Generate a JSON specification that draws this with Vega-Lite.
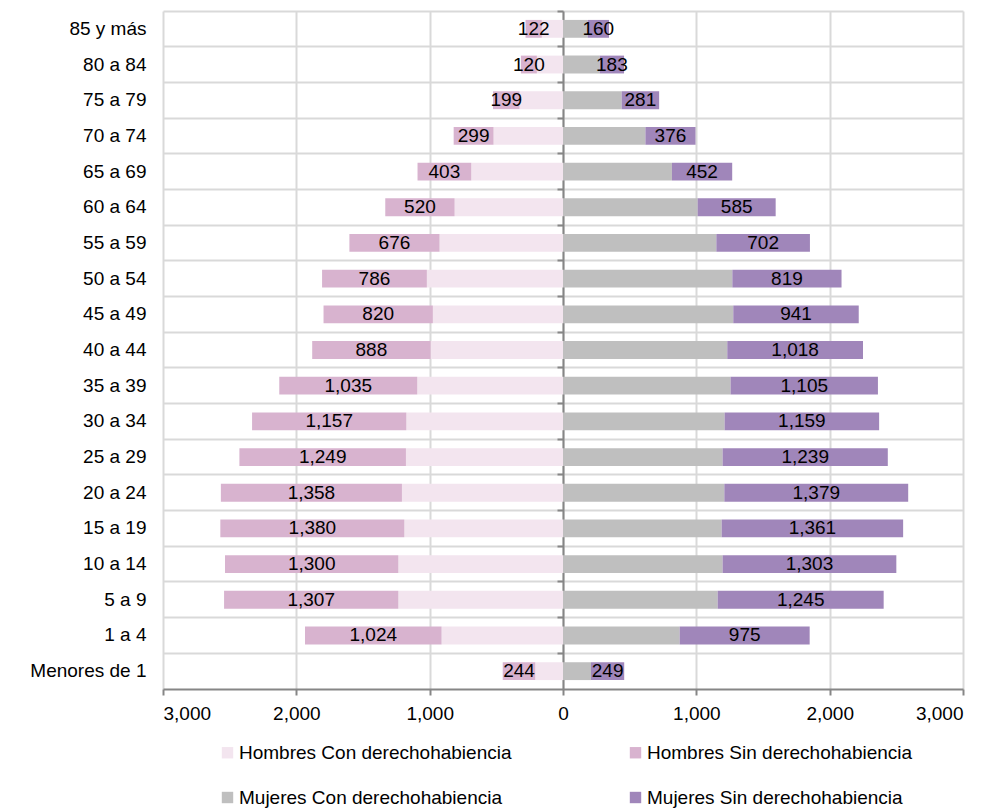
{
  "$schema": "https://vega.github.io/schema/vega-lite/v6.json",
  "width": 800,
  "height": 678,
  "autosize": {"type": "none"},
  "padding": {"left": 163, "top": 11, "right": 41, "bottom": 120},
  "background": "white",
  "config": {"font": "Liberation Sans", "view": {"stroke": null}},
  "data": {
    "values": [
      {"edad": "85 y más", "sexo": "Hombres", "tipo": "Con", "serie": "Hombres Con derechohabiencia", "valor": 159},
      {"edad": "85 y más", "sexo": "Hombres", "tipo": "Sin", "serie": "Hombres Sin derechohabiencia", "valor": 122},
      {"edad": "85 y más", "sexo": "Mujeres", "tipo": "Con", "serie": "Mujeres Con derechohabiencia", "valor": 185},
      {"edad": "85 y más", "sexo": "Mujeres", "tipo": "Sin", "serie": "Mujeres Sin derechohabiencia", "valor": 160},
      {"edad": "80 a 84", "sexo": "Hombres", "tipo": "Con", "serie": "Hombres Con derechohabiencia", "valor": 196},
      {"edad": "80 a 84", "sexo": "Hombres", "tipo": "Sin", "serie": "Hombres Sin derechohabiencia", "valor": 120},
      {"edad": "80 a 84", "sexo": "Mujeres", "tipo": "Con", "serie": "Mujeres Con derechohabiencia", "valor": 275},
      {"edad": "80 a 84", "sexo": "Mujeres", "tipo": "Sin", "serie": "Mujeres Sin derechohabiencia", "valor": 183},
      {"edad": "75 a 79", "sexo": "Hombres", "tipo": "Con", "serie": "Hombres Con derechohabiencia", "valor": 326},
      {"edad": "75 a 79", "sexo": "Hombres", "tipo": "Sin", "serie": "Hombres Sin derechohabiencia", "valor": 199},
      {"edad": "75 a 79", "sexo": "Mujeres", "tipo": "Con", "serie": "Mujeres Con derechohabiencia", "valor": 440},
      {"edad": "75 a 79", "sexo": "Mujeres", "tipo": "Sin", "serie": "Mujeres Sin derechohabiencia", "valor": 281},
      {"edad": "70 a 74", "sexo": "Hombres", "tipo": "Con", "serie": "Hombres Con derechohabiencia", "valor": 521},
      {"edad": "70 a 74", "sexo": "Hombres", "tipo": "Sin", "serie": "Hombres Sin derechohabiencia", "valor": 299},
      {"edad": "70 a 74", "sexo": "Mujeres", "tipo": "Con", "serie": "Mujeres Con derechohabiencia", "valor": 618},
      {"edad": "70 a 74", "sexo": "Mujeres", "tipo": "Sin", "serie": "Mujeres Sin derechohabiencia", "valor": 376},
      {"edad": "65 a 69", "sexo": "Hombres", "tipo": "Con", "serie": "Hombres Con derechohabiencia", "valor": 688},
      {"edad": "65 a 69", "sexo": "Hombres", "tipo": "Sin", "serie": "Hombres Sin derechohabiencia", "valor": 403},
      {"edad": "65 a 69", "sexo": "Mujeres", "tipo": "Con", "serie": "Mujeres Con derechohabiencia", "valor": 817},
      {"edad": "65 a 69", "sexo": "Mujeres", "tipo": "Sin", "serie": "Mujeres Sin derechohabiencia", "valor": 452},
      {"edad": "60 a 64", "sexo": "Hombres", "tipo": "Con", "serie": "Hombres Con derechohabiencia", "valor": 813},
      {"edad": "60 a 64", "sexo": "Hombres", "tipo": "Sin", "serie": "Hombres Sin derechohabiencia", "valor": 520},
      {"edad": "60 a 64", "sexo": "Mujeres", "tipo": "Con", "serie": "Mujeres Con derechohabiencia", "valor": 1010},
      {"edad": "60 a 64", "sexo": "Mujeres", "tipo": "Sin", "serie": "Mujeres Sin derechohabiencia", "valor": 585},
      {"edad": "55 a 59", "sexo": "Hombres", "tipo": "Con", "serie": "Hombres Con derechohabiencia", "valor": 926},
      {"edad": "55 a 59", "sexo": "Hombres", "tipo": "Sin", "serie": "Hombres Sin derechohabiencia", "valor": 676},
      {"edad": "55 a 59", "sexo": "Mujeres", "tipo": "Con", "serie": "Mujeres Con derechohabiencia", "valor": 1150},
      {"edad": "55 a 59", "sexo": "Mujeres", "tipo": "Sin", "serie": "Mujeres Sin derechohabiencia", "valor": 702},
      {"edad": "50 a 54", "sexo": "Hombres", "tipo": "Con", "serie": "Hombres Con derechohabiencia", "valor": 1021},
      {"edad": "50 a 54", "sexo": "Hombres", "tipo": "Sin", "serie": "Hombres Sin derechohabiencia", "valor": 786},
      {"edad": "50 a 54", "sexo": "Mujeres", "tipo": "Con", "serie": "Mujeres Con derechohabiencia", "valor": 1270},
      {"edad": "50 a 54", "sexo": "Mujeres", "tipo": "Sin", "serie": "Mujeres Sin derechohabiencia", "valor": 819},
      {"edad": "45 a 49", "sexo": "Hombres", "tipo": "Con", "serie": "Hombres Con derechohabiencia", "valor": 976},
      {"edad": "45 a 49", "sexo": "Hombres", "tipo": "Sin", "serie": "Hombres Sin derechohabiencia", "valor": 820},
      {"edad": "45 a 49", "sexo": "Mujeres", "tipo": "Con", "serie": "Mujeres Con derechohabiencia", "valor": 1277},
      {"edad": "45 a 49", "sexo": "Mujeres", "tipo": "Sin", "serie": "Mujeres Sin derechohabiencia", "valor": 941},
      {"edad": "40 a 44", "sexo": "Hombres", "tipo": "Con", "serie": "Hombres Con derechohabiencia", "valor": 993},
      {"edad": "40 a 44", "sexo": "Hombres", "tipo": "Sin", "serie": "Hombres Sin derechohabiencia", "valor": 888},
      {"edad": "40 a 44", "sexo": "Mujeres", "tipo": "Con", "serie": "Mujeres Con derechohabiencia", "valor": 1232},
      {"edad": "40 a 44", "sexo": "Mujeres", "tipo": "Sin", "serie": "Mujeres Sin derechohabiencia", "valor": 1018},
      {"edad": "35 a 39", "sexo": "Hombres", "tipo": "Con", "serie": "Hombres Con derechohabiencia", "valor": 1093},
      {"edad": "35 a 39", "sexo": "Hombres", "tipo": "Sin", "serie": "Hombres Sin derechohabiencia", "valor": 1035},
      {"edad": "35 a 39", "sexo": "Mujeres", "tipo": "Con", "serie": "Mujeres Con derechohabiencia", "valor": 1257},
      {"edad": "35 a 39", "sexo": "Mujeres", "tipo": "Sin", "serie": "Mujeres Sin derechohabiencia", "valor": 1105},
      {"edad": "30 a 34", "sexo": "Hombres", "tipo": "Con", "serie": "Hombres Con derechohabiencia", "valor": 1175},
      {"edad": "30 a 34", "sexo": "Hombres", "tipo": "Sin", "serie": "Hombres Sin derechohabiencia", "valor": 1157},
      {"edad": "30 a 34", "sexo": "Mujeres", "tipo": "Con", "serie": "Mujeres Con derechohabiencia", "valor": 1212},
      {"edad": "30 a 34", "sexo": "Mujeres", "tipo": "Sin", "serie": "Mujeres Sin derechohabiencia", "valor": 1159},
      {"edad": "25 a 29", "sexo": "Hombres", "tipo": "Con", "serie": "Hombres Con derechohabiencia", "valor": 1178},
      {"edad": "25 a 29", "sexo": "Hombres", "tipo": "Sin", "serie": "Hombres Sin derechohabiencia", "valor": 1249},
      {"edad": "25 a 29", "sexo": "Mujeres", "tipo": "Con", "serie": "Mujeres Con derechohabiencia", "valor": 1197},
      {"edad": "25 a 29", "sexo": "Mujeres", "tipo": "Sin", "serie": "Mujeres Sin derechohabiencia", "valor": 1239},
      {"edad": "20 a 24", "sexo": "Hombres", "tipo": "Con", "serie": "Hombres Con derechohabiencia", "valor": 1208},
      {"edad": "20 a 24", "sexo": "Hombres", "tipo": "Sin", "serie": "Hombres Sin derechohabiencia", "valor": 1358},
      {"edad": "20 a 24", "sexo": "Mujeres", "tipo": "Con", "serie": "Mujeres Con derechohabiencia", "valor": 1210},
      {"edad": "20 a 24", "sexo": "Mujeres", "tipo": "Sin", "serie": "Mujeres Sin derechohabiencia", "valor": 1379},
      {"edad": "15 a 19", "sexo": "Hombres", "tipo": "Con", "serie": "Hombres Con derechohabiencia", "valor": 1190},
      {"edad": "15 a 19", "sexo": "Hombres", "tipo": "Sin", "serie": "Hombres Sin derechohabiencia", "valor": 1380},
      {"edad": "15 a 19", "sexo": "Mujeres", "tipo": "Con", "serie": "Mujeres Con derechohabiencia", "valor": 1190},
      {"edad": "15 a 19", "sexo": "Mujeres", "tipo": "Sin", "serie": "Mujeres Sin derechohabiencia", "valor": 1361},
      {"edad": "10 a 14", "sexo": "Hombres", "tipo": "Con", "serie": "Hombres Con derechohabiencia", "valor": 1235},
      {"edad": "10 a 14", "sexo": "Hombres", "tipo": "Sin", "serie": "Hombres Sin derechohabiencia", "valor": 1300},
      {"edad": "10 a 14", "sexo": "Mujeres", "tipo": "Con", "serie": "Mujeres Con derechohabiencia", "valor": 1197},
      {"edad": "10 a 14", "sexo": "Mujeres", "tipo": "Sin", "serie": "Mujeres Sin derechohabiencia", "valor": 1303},
      {"edad": "5 a 9", "sexo": "Hombres", "tipo": "Con", "serie": "Hombres Con derechohabiencia", "valor": 1235},
      {"edad": "5 a 9", "sexo": "Hombres", "tipo": "Sin", "serie": "Hombres Sin derechohabiencia", "valor": 1307},
      {"edad": "5 a 9", "sexo": "Mujeres", "tipo": "Con", "serie": "Mujeres Con derechohabiencia", "valor": 1160},
      {"edad": "5 a 9", "sexo": "Mujeres", "tipo": "Sin", "serie": "Mujeres Sin derechohabiencia", "valor": 1245},
      {"edad": "1 a 4", "sexo": "Hombres", "tipo": "Con", "serie": "Hombres Con derechohabiencia", "valor": 911},
      {"edad": "1 a 4", "sexo": "Hombres", "tipo": "Sin", "serie": "Hombres Sin derechohabiencia", "valor": 1024},
      {"edad": "1 a 4", "sexo": "Mujeres", "tipo": "Con", "serie": "Mujeres Con derechohabiencia", "valor": 875},
      {"edad": "1 a 4", "sexo": "Mujeres", "tipo": "Sin", "serie": "Mujeres Sin derechohabiencia", "valor": 975},
      {"edad": "Menores de 1", "sexo": "Hombres", "tipo": "Con", "serie": "Hombres Con derechohabiencia", "valor": 208},
      {"edad": "Menores de 1", "sexo": "Hombres", "tipo": "Sin", "serie": "Hombres Sin derechohabiencia", "valor": 244},
      {"edad": "Menores de 1", "sexo": "Mujeres", "tipo": "Con", "serie": "Mujeres Con derechohabiencia", "valor": 210},
      {"edad": "Menores de 1", "sexo": "Mujeres", "tipo": "Sin", "serie": "Mujeres Sin derechohabiencia", "valor": 249}
    ]
  },
  "transform": [
    {"calculate": "datum.sexo === 'Hombres' ? -datum.valor : datum.valor", "as": "signed"},
    {"stack": "signed", "groupby": ["edad"], "sort": [{"field": "tipo", "order": "ascending"}], "as": ["x0", "x1"]},
    {"calculate": "(datum.x0 + datum.x1) / 2", "as": "xmid"}
  ],
  "layer": [
    {
      "mark": {"type": "bar", "height": {"band": 0.5}},
      "encoding": {
        "y": {
          "field": "edad", "type": "nominal",
          "sort": ["85 y más", "80 a 84", "75 a 79", "70 a 74", "65 a 69", "60 a 64", "55 a 59", "50 a 54", "45 a 49", "40 a 44", "35 a 39", "30 a 34", "25 a 29", "20 a 24", "15 a 19", "10 a 14", "5 a 9", "1 a 4", "Menores de 1"],
          "scale": {"paddingInner": 0, "paddingOuter": 0},
          "axis": {"orient": "left", "offset": -400, "title": null, "labels": false, "bandPosition": 0, "grid": true, "gridColor": "#d9d9d9", "gridWidth": 2, "domain": true, "domainColor": "#868686", "domainWidth": 2, "ticks": true, "tickColor": "#868686", "tickWidth": 2, "tickSize": 6}
        },
        "x": {
          "field": "x0", "type": "quantitative",
          "scale": {"domain": [-3000, 3000], "nice": false},
          "axis": {"title": null, "values": [-3000, -2000, -1000, 0, 1000, 2000, 3000], "labelExpr": "format(abs(datum.value), ',')", "grid": true, "gridColor": "#d9d9d9", "gridWidth": 2, "domainColor": "#868686", "domainWidth": 2, "tickColor": "#868686", "tickWidth": 2, "tickSize": 6, "labelFontSize": 19, "labelColor": "#000000", "labelPadding": 9}
        },
        "x2": {"field": "x1"},
        "color": {
          "field": "serie", "type": "nominal",
          "scale": {
            "domain": ["Hombres Con derechohabiencia", "Hombres Sin derechohabiencia", "Mujeres Con derechohabiencia", "Mujeres Sin derechohabiencia"],
            "range": ["#f3e5ef", "#d8b3cf", "#bfbfbf", "#a086ba"]
          },
          "legend": {"title": null, "orient": "none", "direction": "horizontal", "legendX": 55, "legendY": 732, "columns": 2, "columnPadding": 114, "rowPadding": 25, "symbolType": "square", "symbolSize": 130, "symbolStrokeWidth": 0, "labelFontSize": 19, "labelColor": "#000000", "labelOffset": 2, "labelLimit": 400}
        }
      }
    },
    {
      "transform": [{"filter": "datum.tipo === 'Sin'"}],
      "mark": {"type": "text", "fontSize": 19, "color": "#000000"},
      "encoding": {
        "y": {
          "field": "edad", "type": "nominal",
          "sort": ["85 y más", "80 a 84", "75 a 79", "70 a 74", "65 a 69", "60 a 64", "55 a 59", "50 a 54", "45 a 49", "40 a 44", "35 a 39", "30 a 34", "25 a 29", "20 a 24", "15 a 19", "10 a 14", "5 a 9", "1 a 4", "Menores de 1"],
          "axis": {"orient": "left", "title": null, "grid": false, "domain": false, "ticks": false, "labelFontSize": 19, "labelColor": "#000000", "labelPadding": 17}
        },
        "x": {"field": "xmid", "type": "quantitative"},
        "text": {"field": "valor", "type": "quantitative", "format": ","}
      }
    }
  ],
  "resolve": {"axis": {"y": "independent"}}
}
